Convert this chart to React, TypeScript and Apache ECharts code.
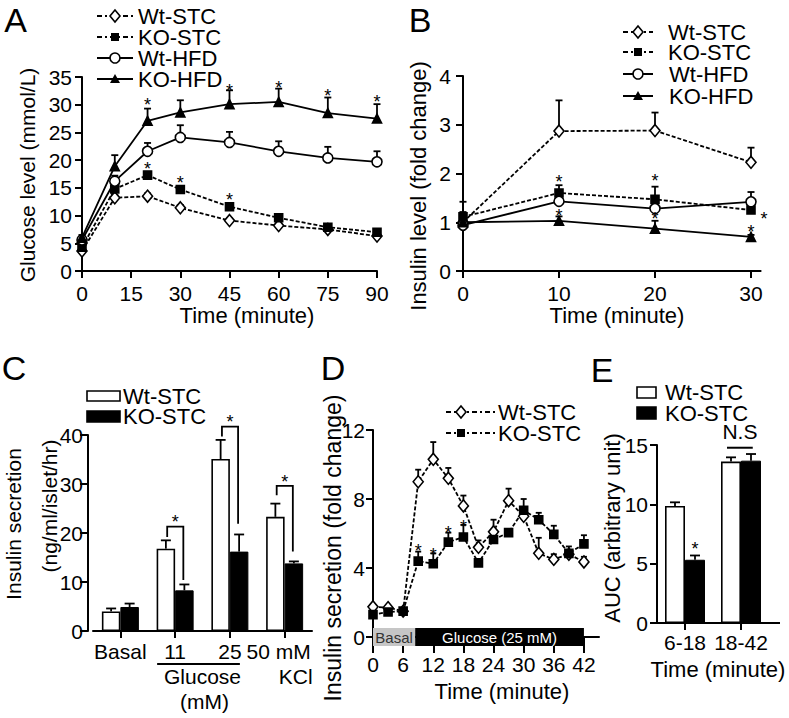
import React, { useEffect, useRef } from "react";
import * as echarts from "echarts";

const FONT = '"Liberation Sans", Arial, Helvetica, sans-serif';

// ---------- Panel A : glucose tolerance ----------
const A_TIME = [0, 10, 20, 30, 45, 60, 75, 90];
const A_WT_STC = [3.6, 13.2, 13.5, 11.4, 9.1, 8.2, 7.5, 6.3];
const A_WT_STC_ERR = [0.3, 0.5, 0.5, 0.5, 0.4, 0.4, 0.3, 0.3];
const A_KO_STC = [4.3, 14.8, 17.3, 14.7, 11.6, 9.6, 7.9, 7.0];
const A_KO_STC_ERR = [0.4, 0.6, 0.6, 0.5, 0.5, 0.5, 0.4, 0.4];
const A_WT_HFD = [5.6, 16.2, 21.6, 24.1, 23.2, 21.6, 20.4, 19.7];
const A_WT_HFD_ERR = [0.4, 1.0, 1.5, 2.2, 1.9, 1.8, 2.0, 1.9];
const A_KO_HFD = [6.0, 18.9, 27.1, 28.6, 30.1, 30.5, 28.5, 27.5];
const A_KO_HFD_ERR = [0.5, 2.0, 2.2, 2.2, 2.5, 2.4, 2.8, 2.6];
const A_STAR_X = [20, 45, 60, 75, 90, 20, 30, 45];
const A_STAR_Y = [30.8, 33.3, 33.9, 32.5, 31.4, 19.4, 16.7, 13.8];

// ---------- Panel B : insulin level ----------
const B_TIME = [0, 10, 20, 30];
const B_WT_STC = [1.0, 2.87, 2.88, 2.23];
const B_WT_STC_ERR = [0.42, 0.63, 0.37, 0.3];
const B_KO_STC = [1.11, 1.6, 1.47, 1.25];
const B_KO_STC_ERR = [0.1, 0.16, 0.26, 0.05];
const B_WT_HFD = [0.94, 1.43, 1.28, 1.42];
const B_WT_HFD_ERR = [0.05, 0.1, 0.08, 0.2];
const B_KO_HFD = [1.0, 1.03, 0.87, 0.7];
const B_KO_HFD_ERR = [0.05, 0.09, 0.16, 0.04];
const B_STAR_X = [10, 10, 20, 20, 31.35, 30];
const B_STAR_Y = [1.92, 1.23, 1.95, 1.18, 1.18, 0.9];
const B_TICKS = [0, 10, 20, 30];

// ---------- Panel C : insulin secretion bars ----------
const C_CATS = ["Basal", "11", "25", "50 mM"];
const C_WT = [4.0, 16.8, 35.1, 23.3];
const C_WT_ERR = [0.6, 1.7, 3.9, 2.7];
const C_KO = [4.9, 8.3, 16.2, 13.8];
const C_KO_ERR = [0.7, 1.2, 3.5, 0.4];
const C_BR_CAT = [1, 2, 3];
const C_BR_TOP = [21.3, 41.7, 29.6];
const C_BR_LEFT_END = [19.2, 39.7, 27.7];
const C_BR_RIGHT_END = [10.4, 21.9, 16.2];
const C_STAR_Y = [23.3, 43.7, 31.5];

// ---------- Panel D : perifusion ----------
const D_TIME = [0, 3, 6, 9, 12, 15, 18, 21, 24, 27, 30, 33, 36, 39, 42];
const D_WT = [1.75, 1.7, 1.5, 9.0, 10.3, 9.2, 7.6, 5.2, 6.1, 7.9, 7.0, 4.85, 4.5, 4.8, 4.35];
const D_WT_ERR = [0.1, 0.1, 0.1, 0.7, 1.0, 0.6, 0.6, 0.4, 0.7, 0.7, 0.3, 0.9, 0.3, 0.2, 0.3];
const D_KO = [1.3, 1.45, 1.5, 4.4, 4.25, 5.5, 5.8, 4.3, 5.65, 6.05, 7.35, 6.8, 5.95, 4.85, 5.4];
const D_KO_ERR = [0.1, 0.1, 0.1, 0.55, 0.6, 0.55, 0.7, 0.1, 0.3, 0.15, 0.65, 0.4, 0.5, 0.4, 0.5];
const D_STAR_X = [9, 12, 15, 18];
const D_STAR_Y = [5.3, 5.05, 6.3, 6.65];
const D_PHASE_START = [0, 8.4];
const D_PHASE_END = [8.4, 42];
const D_PHASE_LABEL = ["Basal", "Glucose (25 mM)"];
const D_TICKS = [0, 6, 12, 18, 24, 30, 36, 42];

// ---------- Panel E : AUC ----------
const E_CATS = ["6-18", "18-42"];
const E_WT = [9.87, 13.6];
const E_WT_ERR = [0.3, 0.36];
const E_KO = [5.33, 13.68];
const E_KO_ERR = [0.36, 0.56];
const E_STAR_CAT = [0];
const E_STAR_Y = [6.64];
const E_NS_CAT = [1];
const E_NS_LINE_Y = [14.77];
const E_NS_TEXT_Y = [16.1];

// ---------- layout ----------
const GA = { left: 82, top: 77, width: 295, height: 194 };
const GB = { left: 463, top: 76, width: 297.6, height: 195 };
const GC = { left: 93, top: 435, width: 219, height: 196 };
const GD = { left: 373, top: 430, width: 226, height: 207 };
const GE = { left: 657, top: 445, width: 112, height: 178 };
const C_BAND = GC.width / 4;
const C_OFF = 9.25 / C_BAND;
const E_BAND = GE.width / 2;
const E_OFF = 10 / E_BAND;

function tstyle(text: string, size: number, align = "center", fill = "#000") {
  return {
    text,
    fill,
    fontSize: size,
    fontFamily: FONT,
    fontWeight: "normal",
    lineHeight: Math.round(size * 0.8),
    align,
    verticalAlign: "middle",
    legacy: false,
  };
}

function vAxis(o: any) {
  const ax: any = {
    type: "value",
    gridIndex: o.gridIndex,
    min: o.min,
    max: o.max,
    interval: o.interval,
    offset: o.offset || 0,
    axisLine: { show: true, onZero: false, lineStyle: { color: "#000", width: 2 } },
    axisTick: { show: true, inside: false, length: o.tickLen || 7, lineStyle: { color: "#000", width: 2 } },
    axisLabel: { show: true, color: "#000", fontSize: 21, fontFamily: FONT, margin: o.margin },
    splitLine: { show: false },
  };
  if (o.custom) {
    ax.axisTick.customValues = o.custom;
    ax.axisLabel.customValues = o.custom;
  }
  return ax;
}

function catAxis(gridIndex: number, data: any[], margin: number) {
  return {
    type: "category",
    gridIndex,
    data,
    axisLine: { show: true, onZero: false, lineStyle: { color: "#000", width: 2 } },
    axisTick: { show: true, alignWithLabel: true, length: 7, lineStyle: { color: "#000", width: 2 } },
    axisLabel: { show: true, interval: 0, color: "#000", fontSize: 21, fontFamily: FONT, margin },
    splitLine: { show: false },
  };
}

function lineSeries(xi: number, yi: number, xs: number[], ys: number[], symbol: string, size: any, filled: boolean, dashed: boolean) {
  return {
    type: "line",
    xAxisIndex: xi,
    yAxisIndex: yi,
    data: xs.map((x, i) => [x, ys[i]]),
    symbol,
    symbolSize: size,
    showSymbol: true,
    silent: true,
    z: 4,
    lineStyle: { color: "#000", width: 1.8, type: dashed ? [4, 2] : "solid" },
    itemStyle: { color: filled ? "#000" : "#fff", borderColor: "#000", borderWidth: 1.6 },
    emphasis: { disabled: true },
  };
}

function errSeries(xi: number, yi: number, pts: number[][], cap: number) {
  return {
    type: "custom",
    xAxisIndex: xi,
    yAxisIndex: yi,
    data: pts,
    silent: true,
    z: 3,
    renderItem: (_p: any, api: any) => {
      const x = api.value(0);
      const y = api.value(1);
      const e = api.value(2);
      const p0 = api.coord([x, y]);
      const p1 = api.coord([x, y + e]);
      return {
        type: "group",
        children: [
          { type: "line", shape: { x1: p0[0], y1: p0[1], x2: p1[0], y2: p1[1] }, style: { stroke: "#000", lineWidth: 1.8 } },
          { type: "line", shape: { x1: p1[0] - cap, y1: p1[1], x2: p1[0] + cap, y2: p1[1] }, style: { stroke: "#000", lineWidth: 1.8 } },
        ],
      };
    },
  };
}

const STAR_SIZE = 18;

function starSeries(xi: number, yi: number, xs: number[], ys: number[]) {
  return {
    type: "custom",
    xAxisIndex: xi,
    yAxisIndex: yi,
    data: xs.map((x, i) => [x, ys[i]]),
    silent: true,
    z: 6,
    renderItem: (_p: any, api: any) => {
      const p = api.coord([api.value(0), api.value(1)]);
      return { type: "text", x: p[0], y: p[1] + STAR_SIZE * 0.28, style: tstyle("*", STAR_SIZE) };
    },
  };
}

function txt(text: string, x: number, y: number, size: number, align = "center", rot = 0, fill = "#000") {
  return { type: "text", x, y, rotation: rot, silent: true, z: 20, style: tstyle(text, size, align, fill) };
}

function symEl(sym: string, mx: number, y: number) {
  if (sym === "diamond")
    return { type: "polygon", z: 21, silent: true, shape: { points: [[mx, y - 6], [mx + 5, y], [mx, y + 6], [mx - 5, y]] }, style: { fill: "#fff", stroke: "#000", lineWidth: 1.6 } };
  if (sym === "rect")
    return { type: "rect", z: 21, silent: true, shape: { x: mx - 4, y: y - 4, width: 8, height: 8 }, style: { fill: "#000" } };
  if (sym === "circle")
    return { type: "circle", z: 21, silent: true, shape: { cx: mx, cy: y, r: 5 }, style: { fill: "#fff", stroke: "#000", lineWidth: 1.6 } };
  return { type: "polygon", z: 21, silent: true, shape: { points: [[mx, y - 5], [mx + 5, y + 4], [mx - 5, y + 4]] }, style: { fill: "#000" } };
}

function legendLine(y: number, x1: number, x2: number, mx: number, tx: number, dashed: boolean, sym: string, label: string) {
  const style: any = { stroke: "#000", lineWidth: 2 };
  if (dashed) style.lineDash = [5, 3, 2, 3];
  return [
    { type: "line", z: 20, silent: true, shape: { x1, y1: y, x2, y2: y }, style },
    symEl(sym, mx, y),
    txt(label, tx, y, 22, "left"),
  ];
}

function legendBox(x: number, y: number, w: number, h: number, filled: boolean, tx: number, label: string) {
  return [
    { type: "rect", z: 20, silent: true, shape: { x, y, width: w, height: h }, style: { fill: filled ? "#000" : "#fff", stroke: "#000", lineWidth: 1.6 } },
    txt(label, tx, y + h / 2, 22, "left"),
  ];
}

function buildOption() {
  const grid = [GA, GB, GC, GD, GE].map((g) => ({ ...g, containLabel: false, outerBoundsMode: "none" }));

  const xAxis: any[] = [
    vAxis({ gridIndex: 0, min: 0, max: 90, interval: 15, margin: 12 }),
    vAxis({ gridIndex: 1, min: 0, max: 31, interval: 10, margin: 12, custom: B_TICKS }),
    catAxis(2, C_CATS.map((c, i) => (i === 3 ? { value: c, textStyle: { padding: [0, 12, 0, 0] } } : c)), 10),
    { type: "value", gridIndex: 2, min: -0.5, max: 3.5, show: false, position: "top" },
    vAxis({ gridIndex: 3, min: 0, max: 45, interval: 6, margin: 17, custom: D_TICKS, tickLen: 16 }),
    catAxis(4, E_CATS, 9),
    { type: "value", gridIndex: 4, min: -0.5, max: 1.5, show: false, position: "top" },
  ];
  const yAxis: any[] = [
    vAxis({ gridIndex: 0, min: 0, max: 35, interval: 5, margin: 10 }),
    vAxis({ gridIndex: 1, min: 0, max: 4, interval: 1, margin: 12 }),
    vAxis({ gridIndex: 2, min: 0, max: 40, interval: 10, margin: 5, offset: 5, tickLen: 8 }),
    vAxis({ gridIndex: 3, min: 0, max: 12, interval: 4, margin: 8 }),
    vAxis({ gridIndex: 4, min: 0, max: 15, interval: 5, margin: 9 }),
  ];

  const pts = (xs: number[], ys: number[], es: number[], dx = 0) => xs.map((x, i) => [x + dx, ys[i], es[i]]);
  const idx = (n: number) => Array.from({ length: n }, (_, i) => i);

  const series: any[] = [
    // A
    errSeries(0, 0, pts(A_TIME, A_WT_STC, A_WT_STC_ERR), 3.5),
    errSeries(0, 0, pts(A_TIME, A_KO_STC, A_KO_STC_ERR), 3.5),
    errSeries(0, 0, pts(A_TIME, A_WT_HFD, A_WT_HFD_ERR), 3.5),
    errSeries(0, 0, pts(A_TIME, A_KO_HFD, A_KO_HFD_ERR), 3.5),
    lineSeries(0, 0, A_TIME, A_WT_STC, "diamond", [10, 12], false, true),
    lineSeries(0, 0, A_TIME, A_KO_STC, "rect", 8, true, true),
    lineSeries(0, 0, A_TIME, A_WT_HFD, "circle", 10, false, false),
    lineSeries(0, 0, A_TIME, A_KO_HFD, "triangle", 9, true, false),
    starSeries(0, 0, A_STAR_X, A_STAR_Y),
    // B
    errSeries(1, 1, pts(B_TIME, B_WT_STC, B_WT_STC_ERR), 3.5),
    errSeries(1, 1, pts(B_TIME, B_KO_STC, B_KO_STC_ERR), 3.5),
    errSeries(1, 1, pts(B_TIME, B_WT_HFD, B_WT_HFD_ERR), 3.5),
    errSeries(1, 1, pts(B_TIME, B_KO_HFD, B_KO_HFD_ERR), 3.5),
    lineSeries(1, 1, B_TIME, B_WT_STC, "diamond", [10, 12], false, true),
    lineSeries(1, 1, B_TIME, B_KO_STC, "rect", 8, true, true),
    lineSeries(1, 1, B_TIME, B_WT_HFD, "circle", 10, false, false),
    lineSeries(1, 1, B_TIME, B_KO_HFD, "triangle", 9, true, false),
    starSeries(1, 1, B_STAR_X, B_STAR_Y),
    // C
    {
      type: "bar", xAxisIndex: 2, yAxisIndex: 2, data: C_WT, barWidth: 18.5, barGap: "0%", silent: true, z: 2,
      itemStyle: { color: "#fff", borderColor: "#000", borderWidth: 1.6 },
    },
    {
      type: "bar", xAxisIndex: 2, yAxisIndex: 2, data: C_KO, barWidth: 18.5, barGap: "0%", silent: true, z: 2,
      itemStyle: { color: "#000", borderColor: "#000", borderWidth: 1 },
    },
    errSeries(3, 2, pts(idx(4), C_WT, C_WT_ERR, -C_OFF), 5),
    errSeries(3, 2, pts(idx(4), C_KO, C_KO_ERR, C_OFF), 5),
    {
      type: "custom", xAxisIndex: 3, yAxisIndex: 2, silent: true, z: 5,
      data: C_BR_CAT.map((c, i) => [c, C_BR_TOP[i], C_BR_LEFT_END[i], C_BR_RIGHT_END[i], C_STAR_Y[i]]),
      renderItem: (_p: any, api: any) => {
        const c = api.value(0);
        const top = api.value(1);
        const xl = c - 0.145;
        const xr = c + 0.15;
        const a = api.coord([xl, api.value(2)]);
        const b = api.coord([xl, top]);
        const d = api.coord([xr, top]);
        const e = api.coord([xr, api.value(3)]);
        const s = api.coord([c, api.value(4)]);
        return {
          type: "group",
          children: [
            { type: "polyline", shape: { points: [a, b, d, e] }, style: { stroke: "#000", lineWidth: 1.8, fill: null } },
            { type: "text", x: s[0], y: s[1] + STAR_SIZE * 0.28, style: tstyle("*", STAR_SIZE) },
          ],
        };
      },
    },
    // D
    {
      type: "custom", xAxisIndex: 4, yAxisIndex: 3, silent: true, z: 2,
      data: D_PHASE_START.map((s, i) => [s, D_PHASE_END[i], i]),
      renderItem: (_p: any, api: any) => {
        const i = api.value(2);
        const p0 = api.coord([api.value(0), 0]);
        const p1 = api.coord([api.value(1), 0]);
        return {
          type: "group",
          children: [
            { type: "rect", shape: { x: p0[0], y: p0[1] - 9, width: p1[0] - p0[0], height: 18 }, style: { fill: i === 0 ? "#c6c6c6" : "#000" } },
            { type: "text", x: (p0[0] + p1[0]) / 2, y: p0[1], style: tstyle(D_PHASE_LABEL[i], 15, "center", i === 0 ? "#333" : "#fff") },
          ],
        };
      },
    },
    errSeries(4, 3, pts(D_TIME, D_WT, D_WT_ERR), 3),
    errSeries(4, 3, pts(D_TIME, D_KO, D_KO_ERR), 3),
    lineSeries(4, 3, D_TIME, D_WT, "diamond", [10, 12], false, true),
    lineSeries(4, 3, D_TIME, D_KO, "rect", 8, true, true),
    starSeries(4, 3, D_STAR_X, D_STAR_Y),
    // E
    {
      type: "bar", xAxisIndex: 5, yAxisIndex: 4, data: E_WT, barWidth: 20, barGap: "0%", silent: true, z: 2,
      itemStyle: { color: "#fff", borderColor: "#000", borderWidth: 1.6 },
    },
    {
      type: "bar", xAxisIndex: 5, yAxisIndex: 4, data: E_KO, barWidth: 20, barGap: "0%", silent: true, z: 2,
      itemStyle: { color: "#000", borderColor: "#000", borderWidth: 1 },
    },
    errSeries(6, 4, pts(idx(2), E_WT, E_WT_ERR, -E_OFF), 5),
    errSeries(6, 4, pts(idx(2), E_KO, E_KO_ERR, E_OFF), 5),
    starSeries(6, 4, E_STAR_CAT.map((c) => c + E_OFF), E_STAR_Y),
    {
      type: "custom", xAxisIndex: 6, yAxisIndex: 4, silent: true, z: 5,
      data: E_NS_CAT.map((c, i) => [c, E_NS_LINE_Y[i], E_NS_TEXT_Y[i]]),
      renderItem: (_p: any, api: any) => {
        const c = api.value(0);
        const l0 = api.coord([c - 0.25, api.value(1)]);
        const l1 = api.coord([c + 0.21, api.value(1)]);
        const t = api.coord([c - 0.02, api.value(2)]);
        return {
          type: "group",
          children: [
            { type: "line", shape: { x1: l0[0], y1: l0[1], x2: l1[0], y2: l1[1] }, style: { stroke: "#000", lineWidth: 2 } },
            { type: "text", x: t[0], y: t[1], style: tstyle("N.S", 21) },
          ],
        };
      },
    },
  ];

  const R = Math.PI / 2;
  const cCenter = (i: number) => GC.left + C_BAND * (i + 0.5);
  const graphic: any[] = [
    // panel letters
    txt("A", 15.5, 20, 34),
    txt("B", 420, 20, 34),
    txt("C", 14, 368, 34),
    txt("D", 333, 368, 34),
    txt("E", 602, 370, 34),
    // axis titles
    txt("Glucose level (mmol/L)", 27, 175, 21, "center", R),
    txt("Time (minute)", 247, 315, 22),
    txt("Insulin level (fold change)", 418, 186, 22, "center", R),
    txt("Time (minute)", 617, 315, 22),
    txt("Insulin secretion", 13, 524, 21, "center", R),
    txt("(ng/ml/islet/hr)", 49, 506, 21, "center", R),
    txt("Insulin secretion (fold change)", 333, 548, 23, "center", R),
    txt("Time (minute)", 502, 691, 22),
    txt("AUC (arbitrary unit)", 612, 528, 22, "center", R),
    txt("Time (minute)", 718, 669, 22),
    // extension of panel E baseline
    { type: "line", z: 1, silent: true, shape: { x1: GE.left + GE.width, y1: GE.top + GE.height, x2: 780, y2: GE.top + GE.height }, style: { stroke: "#000", lineWidth: 2 } },
    // panel C secondary category labels
    { type: "line", z: 20, silent: true, shape: { x1: cCenter(1) - 18, y1: 664, x2: cCenter(2) + 10, y2: 664 }, style: { stroke: "#000", lineWidth: 2 } },
    txt("Glucose", (cCenter(1) + cCenter(2)) / 2, 676, 21),
    txt("(mM)", (cCenter(1) + cCenter(2)) / 2 + 2, 701, 21),
    txt("KCl", cCenter(3) + 11, 676, 21),
    // legends A
    ...legendLine(16, 97, 133, 115, 138, true, "diamond", "Wt-STC"),
    ...legendLine(37, 97, 133, 115, 138, true, "rect", "KO-STC"),
    ...legendLine(58, 97, 133, 115, 138, false, "circle", "Wt-HFD"),
    ...legendLine(79, 97, 133, 115, 138, false, "triangle", "KO-HFD"),
    // legends B
    ...legendLine(32, 623, 653, 638, 668, true, "diamond", "Wt-STC"),
    ...legendLine(52, 623, 653, 638, 668, true, "rect", "KO-STC"),
    ...legendLine(74, 623, 653, 638, 669, false, "circle", "Wt-HFD"),
    ...legendLine(96, 623, 653, 638, 669, false, "triangle", "KO-HFD"),
    // legends C
    ...legendBox(87, 391, 33, 10, false, 123, "Wt-STC"),
    ...legendBox(87, 411, 33, 11, true, 123, "KO-STC"),
    // legends D
    ...legendLine(412, 446, 495, 461, 498, true, "diamond", "Wt-STC"),
    ...legendLine(433, 446, 495, 461, 498, true, "rect", "KO-STC"),
    // legends E
    ...legendBox(637, 387, 19, 11, false, 665, "Wt-STC"),
    ...legendBox(637, 407, 19, 12, true, 665, "KO-STC"),
  ];

  return {
    animation: false,
    backgroundColor: "#fff",
    textStyle: { fontFamily: FONT },
    grid,
    xAxis,
    yAxis,
    series,
    graphic,
  };
}

export default function App() {
  const ref = useRef<HTMLDivElement>(null);
  useEffect(() => {
    document.body.style.margin = "0";
    const chart = echarts.init(ref.current as HTMLDivElement, null, { renderer: "svg" });
    chart.setOption(buildOption() as any);
    return () => chart.dispose();
  }, []);
  return <div ref={ref} style={{ width: 789, height: 718, background: "#fff" }} />;
}
